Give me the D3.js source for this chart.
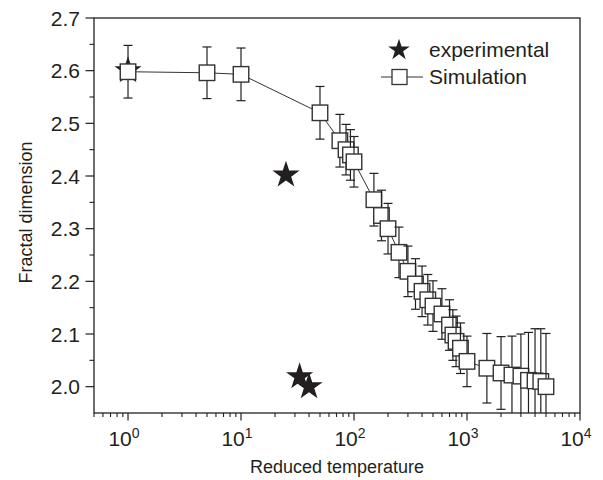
<!DOCTYPE html>
<html>
<head>
<meta charset="utf-8">
<script src="https://cdn.jsdelivr.net/npm/d3@7"></script>
<style>
  body { margin: 0; background: #fff; }
  svg text { font-family: "Liberation Sans", Arial, Helvetica, sans-serif; fill: #231f20; }
</style>
</head>
<body>
<svg id="chart" width="603" height="480"></svg>
<script>
// Simulation: reduced temperature, fractal dimension, error
const simT = [1, 5, 10, 50, 75, 85, 93, 100, 150, 175, 200, 250, 300, 350, 400, 450, 500, 600, 700, 750, 800, 875, 1000, 1500, 2000, 2500, 3000, 3500, 4000, 4500, 5000];
const simD = [2.598, 2.596, 2.593, 2.520, 2.467, 2.450, 2.440, 2.427, 2.355, 2.325, 2.300, 2.255, 2.219, 2.195, 2.181, 2.165, 2.153, 2.138, 2.117, 2.098, 2.086, 2.073, 2.048, 2.035, 2.026, 2.022, 2.020, 2.012, 2.011, 2.010, 2.000];
const simErr = [0.05, 0.049, 0.05, 0.05, 0.05, 0.048, 0.048, 0.048, 0.05, 0.048, 0.048, 0.048, 0.048, 0.048, 0.048, 0.048, 0.048, 0.048, 0.048, 0.048, 0.048, 0.048, 0.048, 0.066, 0.069, 0.074, 0.080, 0.091, 0.099, 0.100, 0.101];

// Experimental points
const expT = [1, 25, 33, 40];
const expD = [2.6, 2.402, 2.019, 2.0];

const yTicks = [2.0, 2.1, 2.2, 2.3, 2.4, 2.5, 2.6, 2.7];
const xTicks = [1, 10, 100, 1000, 10000];
const legendLabels = ["experimental", "Simulation"];

const margin = { top: 18, right: 23, bottom: 67, left: 94 };
const WIDTH = 603, HEIGHT = 480;
const width = WIDTH - margin.left - margin.right,
      height = HEIGHT - margin.top - margin.bottom;

const ink = "#231f20";

const svg = d3.select("svg#chart");
const g = svg.append("g").attr("transform", `translate(${margin.left}, ${margin.top})`);

const x = d3.scaleLog().domain([0.5, 10000]).range([0, width]);
const y = d3.scaleLinear().domain([1.95, 2.7]).range([height, 0]);

g.append("clipPath").attr("id", "plotClip")
  .append("rect").attr("width", width).attr("height", height);

// minor ticks
const xMinor = [];
for (let e = -1; e < 4; e++) {
  for (let m = 2; m <= 9; m++) {
    const v = m * Math.pow(10, e);
    if (v >= 0.5 && v <= 10000) xMinor.push(v);
  }
}
const yMinor = d3.range(2.05, 2.7, 0.1);

g.selectAll("line.xminor").data(xMinor).join("line")
  .attr("x1", d => x(d)).attr("x2", d => x(d))
  .attr("y1", height).attr("y2", height + 4)
  .attr("stroke", ink).attr("stroke-width", 1.1);
g.selectAll("line.xmajor").data(xTicks).join("line")
  .attr("x1", d => x(d)).attr("x2", d => x(d))
  .attr("y1", height).attr("y2", height + 7.5)
  .attr("stroke", ink).attr("stroke-width", 1.2);
g.selectAll("line.yminor").data(yMinor).join("line")
  .attr("x1", -4.5).attr("x2", 0)
  .attr("y1", d => y(d)).attr("y2", d => y(d))
  .attr("stroke", ink).attr("stroke-width", 1.1);
g.selectAll("line.ymajor").data(yTicks).join("line")
  .attr("x1", -8.5).attr("x2", 0)
  .attr("y1", d => y(d)).attr("y2", d => y(d))
  .attr("stroke", ink).attr("stroke-width", 1.2);

// tick labels
g.selectAll("text.ylab").data(yTicks).join("text")
  .attr("x", -14).attr("y", d => y(d))
  .attr("dy", "0.36em")
  .attr("text-anchor", "end")
  .style("font-size", "21px")
  .text(d => d.toFixed(1));

const xl = g.selectAll("text.xlab").data(xTicks).join("text")
  .attr("x", d => x(d) - 4).attr("y", height + 33)
  .attr("text-anchor", "middle")
  .style("font-size", "21px");
xl.append("tspan").text("10");
xl.append("tspan").attr("dy", "-0.55em").style("font-size", "14px")
  .text(d => Math.round(Math.log10(d)));

// axis titles
svg.append("text")
  .attr("x", margin.left + width / 2).attr("y", 473)
  .attr("text-anchor", "middle")
  .style("font-size", "18px")
  .text("Reduced temperature");
svg.append("text")
  .attr("transform", `translate(32, ${margin.top + height / 2 - 3}) rotate(-90)`)
  .attr("text-anchor", "middle")
  .style("font-size", "18px")
  .text("Fractal dimension");

// data
const plot = g.append("g").attr("clip-path", "url(#plotClip)");
const star = d3.symbol().type(d3.symbolStar);

plot.selectAll("path.exp").data(expT).join("path")
  .attr("transform", (d, i) => `translate(${x(d)}, ${y(expD[i])})`)
  .attr("d", star.size(230)())
  .attr("fill", ink);

const simData = simT.map((t, i) => ({ t, d: simD[i], e: simErr[i] }));

plot.append("path")
  .datum(simData)
  .attr("fill", "none")
  .attr("stroke", "#333")
  .attr("stroke-width", 1)
  .attr("d", d3.line().x(d => x(d.t)).y(d => y(d.d)));

const sq = 15.5, cap = 4.5;
const pts = plot.selectAll("g.pt").data(simData).join("g")
  .attr("transform", d => `translate(${x(d.t)}, 0)`);
pts.append("line")
  .attr("y1", d => y(d.d + d.e)).attr("y2", d => y(d.d - d.e))
  .attr("stroke", ink).attr("stroke-width", 1.2);
pts.append("line")
  .attr("x1", -cap).attr("x2", cap)
  .attr("y1", d => y(d.d + d.e)).attr("y2", d => y(d.d + d.e))
  .attr("stroke", ink).attr("stroke-width", 1.2);
pts.append("line")
  .attr("x1", -cap).attr("x2", cap)
  .attr("y1", d => y(d.d - d.e)).attr("y2", d => y(d.d - d.e))
  .attr("stroke", ink).attr("stroke-width", 1.2);
pts.append("rect")
  .attr("x", -sq / 2).attr("y", d => y(d.d) - sq / 2)
  .attr("width", sq).attr("height", sq)
  .attr("fill", "#fff").attr("stroke", "#333").attr("stroke-width", 1.4);

// frame
g.append("rect").attr("width", width).attr("height", height)
  .attr("fill", "none").attr("stroke", ink).attr("stroke-width", 1.3);

// legend
const leg = svg.append("g");
leg.append("path")
  .attr("transform", "translate(399, 50)")
  .attr("d", star.size(145)())
  .attr("fill", ink);
leg.append("line")
  .attr("x1", 381).attr("x2", 423).attr("y1", 77).attr("y2", 77)
  .attr("stroke", "#333").attr("stroke-width", 1);
leg.append("rect")
  .attr("x", 392).attr("y", 69.5).attr("width", 15).attr("height", 15)
  .attr("fill", "#fff").attr("stroke", "#333").attr("stroke-width", 1.3);
leg.selectAll("text").data(legendLabels).join("text")
  .attr("x", 429).attr("y", (d, i) => 57 + i * 27)
  .style("font-size", "21px")
  .text(d => d);
</script>
</body>
</html>
